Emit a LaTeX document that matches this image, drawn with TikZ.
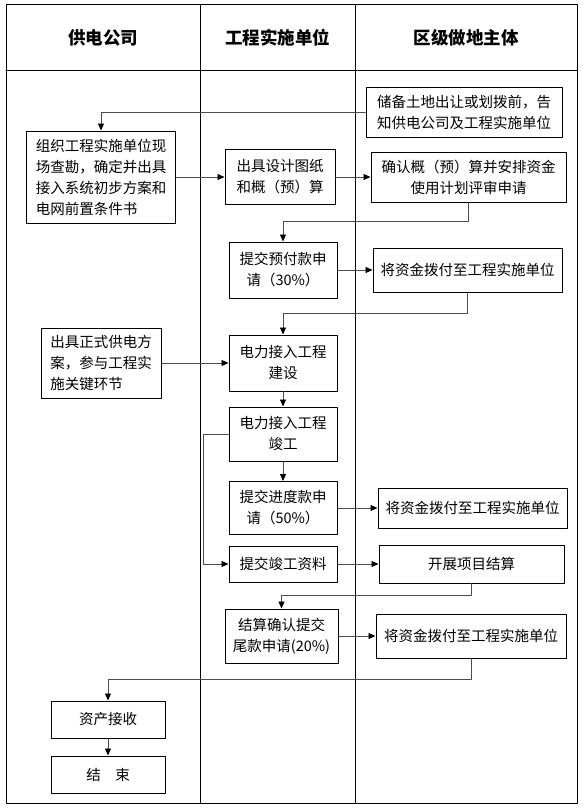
\documentclass[tikz,border=0pt]{standalone}
\usepackage{fontspec}
\newfontfamily\cjk{Noto Sans CJK SC}
\usetikzlibrary{arrows.meta}
\begin{document}
\begin{tikzpicture}[x=1pt, y=-1pt, line cap=round, line join=round,
    flowbox/.style={draw, line width=1pt, inner sep=0pt, align=center,
      font=\cjk\fontsize{14.5}{21}\selectfont},
    flowline/.style={line width=0.9pt, draw=black!70,
      -{Triangle[length=7pt, width=6pt, color=black]}},
    lanehead/.style={font=\cjk\bfseries\fontsize{17.5}{20}\selectfont}]
  \useasboundingbox (0,0) rectangle (585,808);
  \begin{scope}[line width=1pt]
    \draw (6,5) rectangle (577,803);
    \draw (6,70) -- (577,70);
    \draw (200,5) -- (200,803);
    \draw (355,5) -- (355,803);
  \end{scope}
  \node[lanehead] (hpower) at (103,37.5) {供电公司};
  \node[lanehead] (hbuild) at (277.5,37.5) {工程实施单位};
  \node[lanehead] (hdistrict) at (466,37.5) {区级做地主体};

  \node[flowbox, minimum width=196, minimum height=50] (notice) at (464,112)
    {储备土地出让或划拨前，告\\知供电公司及工程实施单位};
  \node[flowbox, align=left, minimum width=149, minimum height=92] (survey) at (101,177)
    {组织工程实施单位现\\场查勘，确定并出具\\接入系统初步方案和\\电网前置条件书};
  \node[flowbox, minimum width=110, minimum height=55] (design) at (280,177)
    {出具设计图纸\\和概（预）算};
  \node[flowbox, minimum width=195, minimum height=50] (review) at (468.5,177)
    {确认概（预）算并安排资金\\使用计划评审申请};
  \node[flowbox, minimum width=108, minimum height=56] (prepay) at (283,270)
    {提交预付款申\\请（30\%）};
  \node[flowbox, minimum width=189, minimum height=44] (fundA) at (467.5,270)
    {将资金拨付至工程实施单位};
  \node[flowbox, align=left, minimum width=120, minimum height=70] (plan) at (101,363)
    {出具正式供电方\\案，参与工程实\\施关键环节};
  \node[flowbox, minimum width=108, minimum height=56] (build) at (283,363)
    {电力接入工程\\建设};
  \node[flowbox, minimum width=108, minimum height=54] (done) at (283,434)
    {电力接入工程\\竣工};
  \node[flowbox, minimum width=108, minimum height=53] (progress) at (283,508)
    {提交进度款申\\请（50\%）};
  \node[flowbox, minimum width=189, minimum height=40] (fundB) at (472.5,508)
    {将资金拨付至工程实施单位};
  \node[flowbox, minimum width=108, minimum height=36] (submit) at (283,564)
    {提交竣工资料};
  \node[flowbox, minimum width=185, minimum height=38] (settle) at (471.5,564)
    {开展项目结算};
  \node[flowbox, minimum width=113, minimum height=54] (final) at (281.5,636)
    {结算确认提交\\尾款申请(20\%)};
  \node[flowbox, minimum width=190, minimum height=44] (fundC) at (471,636)
    {将资金拨付至工程实施单位};
  \node[flowbox, minimum width=114, minimum height=37] (asset) at (108,719.5)
    {资产接收};
  \node[flowbox, minimum width=114, minimum height=37] (finish) at (108,774.5)
    {结\quad 束};

  \draw[flowline] (notice.west) -| (survey.north);
  \draw[flowline] (survey.east) -- (survey.east -| design.west);
  \draw[flowline] (design.east) -- (design.east -| review.west);
  \draw[flowline] (review.south) -- ++(0,19) -| (prepay.north);
  \draw[flowline] (prepay.east) -- (prepay.east -| fundA.west);
  \draw[flowline] (fundA.south) -- ++(0,21) -| (build.north);
  \draw[flowline] (plan.east) -- (plan.east -| build.west);
  \draw[flowline] (build) -- (done);
  \draw[flowline] (done) -- (progress);
  \draw[flowline] (done.west) -- ++(-25,0) |- (submit.west);
  \draw[flowline] (progress.east) -- (progress.east -| fundB.west);
  \draw[flowline] (submit.east) -- (submit.east -| settle.west);
  \draw[flowline] (settle.south) -- ++(0,12) -| (final.north);
  \draw[flowline] (final.east) -- (final.east -| fundC.west);
  \draw[flowline] (fundC.south) -- ++(0,21) -| (asset.north);
  \draw[flowline] (asset) -- (finish);
\end{tikzpicture}
\end{document}
